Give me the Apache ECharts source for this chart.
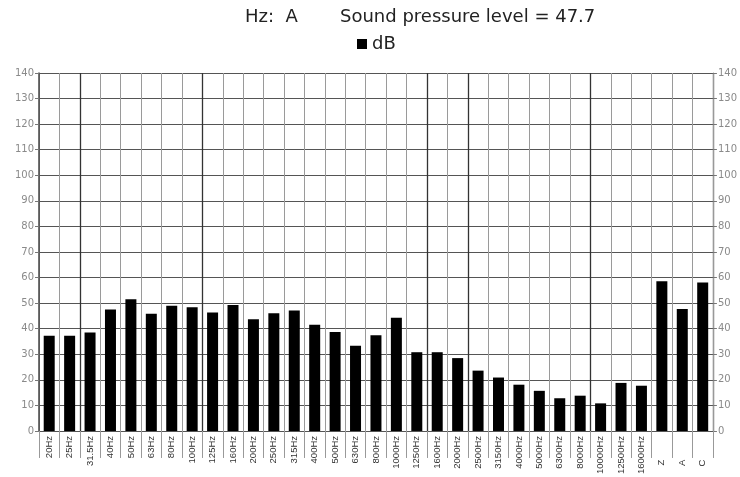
<!DOCTYPE html>
<html>
<head>
<meta charset="utf-8">
<script src="https://cdn.jsdelivr.net/npm/echarts@6/dist/echarts.min.js"></script>
<style>
  html, body { margin: 0; padding: 0; background: #fff; }
  #chart { width: 740px; height: 477px; }
</style>
</head>
<body>
<div id="chart"></div>
<script>
// band names along the x axis
const categories = ['20Hz', '25Hz', '31.5Hz', '40Hz', '50Hz', '63Hz', '80Hz', '100Hz',
  '125Hz', '160Hz', '200Hz', '250Hz', '315Hz', '400Hz', '500Hz', '630Hz', '800Hz',
  '1000Hz', '1250Hz', '1600Hz', '2000Hz', '2500Hz', '3150Hz', '4000Hz', '5000Hz',
  '6300Hz', '8000Hz', '10000Hz', '12500Hz', '16000Hz', 'Z', 'A', 'C'];

// level per band, dB
const dbValues = [37.2, 37.2, 38.5, 47.5, 51.5, 45.8, 49.0, 48.4,
  46.3, 49.3, 43.7, 46.0, 47.1, 41.5, 38.7, 33.3, 37.4,
  44.3, 30.8, 30.8, 28.5, 23.6, 20.9, 18.1, 15.7,
  12.8, 13.8, 10.8, 18.8, 17.7, 58.6, 47.7, 58.1];

const weightings = ['Z', 'A', 'C'];
const darkLines = [2, 8, 19, 21, 27];

const chart = echarts.init(document.getElementById('chart'));

const yAxisCommon = {
  type: 'value',
  min: 0,
  max: 140,
  interval: 10,
  axisTick: { show: true, length: 4, lineStyle: { color: '#777' } },
  axisLabel: { color: '#8a8a8a', fontSize: 10, fontFamily: 'DejaVu Sans', margin: 5 }
};

chart.setOption({
  animation: false,
  backgroundColor: '#fff',
  title: [
    { text: 'Hz:  A', left: 245, top: 8, padding: 0,
      textStyle: { fontSize: 18, fontWeight: 'normal', color: '#222', fontFamily: 'DejaVu Sans' } },
    { text: 'Sound pressure level = 47.7', left: 340, top: 8, padding: 0,
      textStyle: { fontSize: 18, fontWeight: 'normal', color: '#222', fontFamily: 'DejaVu Sans' } }
  ],
  legend: {
    data: ['dB'],
    left: 357,
    top: 35,
    padding: 0,
    icon: 'rect',
    itemWidth: 10,
    itemHeight: 10,
    textStyle: { fontSize: 18, color: '#222', fontFamily: 'DejaVu Sans' }
  },
  grid: { left: 39, right: 26, top: 73, bottom: 44 },
  xAxis: [
    {
      type: 'category',
      data: categories,
      axisLine: { show: true, lineStyle: { color: '#555' } },
      axisTick: { show: true, interval: 0, length: 27, lineStyle: { color: '#999' } },
      axisLabel: {
        interval: 0,
        rotate: 90,
        margin: 5,
        fontSize: 9.5,
        color: '#333',
        fontFamily: 'Liberation Sans',
        formatter: function (v) {
          return weightings.indexOf(v) >= 0 ? v + '\u00a0'.repeat(9) : v;
        }
      },
      splitLine: { show: true, interval: 0, lineStyle: { color: '#9a9a9a', width: 1 } }
    },
    {
      // extra axis only for the darker vertical grid lines
      type: 'category',
      data: categories,
      position: 'bottom',
      axisLine: { show: false },
      axisTick: { show: false },
      axisLabel: { show: false },
      splitLine: {
        show: true,
        interval: function (i) { return darkLines.indexOf(i) >= 0; },
        lineStyle: { color: '#333', width: 1.3 }
      }
    }
  ],
  yAxis: [
    Object.assign({}, yAxisCommon, {
      position: 'left',
      axisLine: { show: true, lineStyle: { color: '#444', width: 1.5 } },
      splitLine: { show: true, lineStyle: { color: '#555', width: 1.2 } }
    }),
    Object.assign({}, yAxisCommon, {
      position: 'right',
      axisLine: { show: true, lineStyle: { color: '#999' } },
      splitLine: { show: false }
    })
  ],
  series: [
    {
      name: 'dB',
      type: 'bar',
      data: dbValues,
      barWidth: 11,
      itemStyle: { color: '#000' }
    }
  ]
});
</script>
</body>
</html>
